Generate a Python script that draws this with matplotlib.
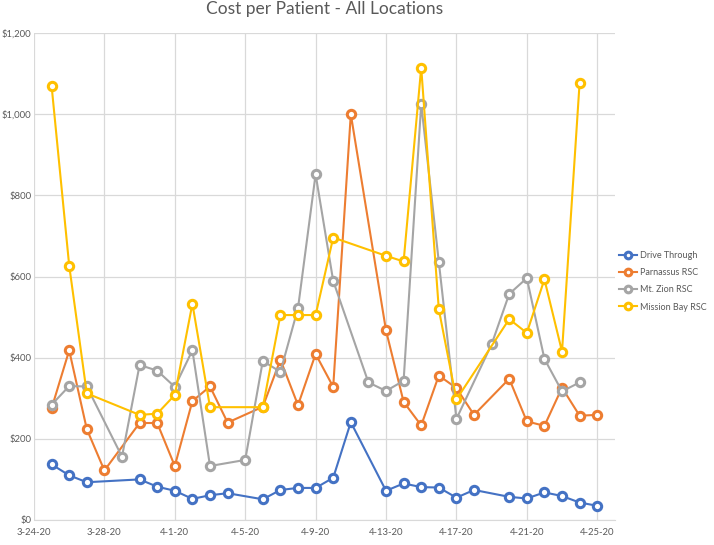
import matplotlib
matplotlib.use("Agg")
import matplotlib.pyplot as plt
import matplotlib.ticker as mticker
import numpy as np
import pandas as pd

# one value per day, 3-25-20 .. 4-25-20 (None = no data that day)
dates = pd.date_range("2020-03-25", "2020-04-25", freq="D")

drive_through = [137, 110, 93, None, None, 100, 82, 72, 52, 61, 66, None, 51, 74, 79, 79,
                 104, 241, None, 72, 90, 81, 80, 55, 74, None, 57, 53, 68, 59, 43, 35]
parnassus = [275, 418, 224, 122, None, 239, 239, 133, 293, 329, 240, None, 279, 395, 283, 409,
             328, 1000, None, 467, 291, 233, 356, 325, 259, None, 348, 243, 232, 326, 257, 259]
mt_zion = [284, 330, 329, None, 156, 382, 368, 328, 418, 133, None, 148, 392, 365, 522, 852,
           589, None, 339, 318, 343, 1025, 636, 249, None, 433, 557, 596, 397, 317, 339, None]
mission_bay = [1070, 627, 312, None, None, 259, 262, 308, 533, 278, None, None, 278, 505, 505, 505,
               696, None, None, 651, 637, 1115, 519, 297, None, None, 495, 461, 593, 415, 1078, None]

series = [
    ("Drive Through", drive_through, "#4472C4"),
    ("Parnassus RSC", parnassus, "#ED7D31"),
    ("Mt. Zion RSC", mt_zion, "#A5A5A5"),
    ("Mission Bay RSC", mission_bay, "#FFC000"),
]

plt.rcParams['font.family'] = ['Lato', 'DejaVu Sans']

fig = plt.figure(figsize=(7.14, 5.45), dpi=100)
ax = fig.add_axes([0.0476, 0.0459, 0.8135, 0.8935])

for name, vals, color in series:
    v = np.array([np.nan if x is None else x for x in vals], dtype=float)
    ok = ~np.isnan(v)
    ax.plot(dates[ok], v[ok], color=color, lw=1.5, marker="o", markersize=6,
            markerfacecolor="white", markeredgecolor=color, markeredgewidth=2.2,
            label=name)

ax.set_ylim(0, 1200)
ax.yaxis.set_major_locator(mticker.MultipleLocator(200))
ax.yaxis.set_major_formatter(mticker.FuncFormatter(lambda y, p: f"${y:,.0f}"))

ax.set_xlim(pd.Timestamp("2020-03-24"), pd.Timestamp("2020-04-26"))
ticks = pd.date_range("2020-03-24", "2020-04-25", freq="4D")
ax.set_xticks(ticks)
ax.set_xticklabels([f"{d.month}-{d.day}-{d.strftime('%y')}" for d in ticks])

ax.grid(True, color="#D9D9D9", lw=0.9)
ax.set_axisbelow(True)
for s in ["top", "right", "left"]:
    ax.spines[s].set_visible(False)
ax.spines["bottom"].set_color("#D9D9D9")
ax.tick_params(length=0, labelsize=6.8, colors="#595959")
ax.tick_params(axis="y", pad=2)
ax.tick_params(axis="x", pad=6)

ax.set_title("Cost per Patient - All Locations", fontsize=12.5, color="#595959", pad=14)

ax.legend(loc="center left", bbox_to_anchor=(1.0, 0.49), frameon=False, fontsize=6.5,
          labelcolor="#595959", handlelength=2.0, handletextpad=0.3, markerscale=0.8,
          borderaxespad=0.1, labelspacing=0.9)

fig.savefig("out.png", dpi=100)
